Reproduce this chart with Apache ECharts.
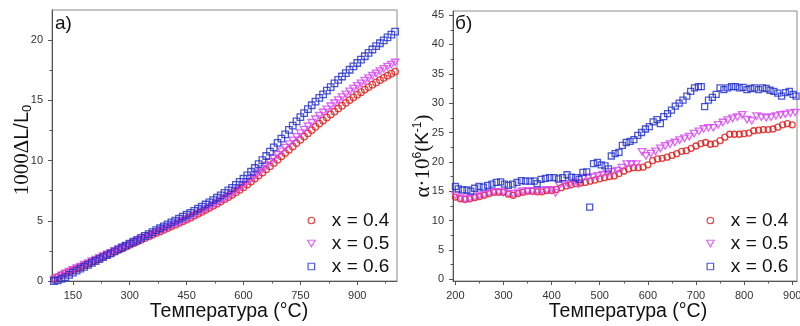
<!DOCTYPE html>
<html><head><meta charset="utf-8">
<script src="https://cdn.jsdelivr.net/npm/echarts@6/dist/echarts.min.js"></script>
<style>html,body{margin:0;padding:0;background:#fff}#c{width:800px;height:326px}</style>
</head><body><div id="c"></div>
<script>
// ---------- DATA ----------
const seriesNames = ['x = 0.4', 'x = 0.5', 'x = 0.6'];
// panel a) temperature (°C)
const tempA = [100,110,120,130,140,150,160,170,180,190,200,210,220,230,240,250,260,270,280,290,300,310,320,330,340,350,360,370,380,390,400,410,420,430,440,450,460,470,480,490,500,510,520,530,540,550,560,570,580,590,600,610,620,630,640,650,660,670,680,690,700,710,720,730,740,750,760,770,780,790,800,810,820,830,840,850,860,870,880,890,900,910,920,930,940,950,960,970,980,990,1000];
// 1000·ΔL/L0
const dlA_04 = [0.15,0.32,0.48,0.63,0.77,0.90,1.03,1.17,1.31,1.45,1.60,1.74,1.88,2.02,2.16,2.30,2.44,2.58,2.72,2.86,3.00,3.14,3.28,3.42,3.56,3.70,3.84,3.98,4.12,4.26,4.40,4.54,4.68,4.82,4.96,5.10,5.26,5.42,5.58,5.74,5.91,6.08,6.25,6.42,6.60,6.79,6.97,7.16,7.36,7.57,7.79,8.02,8.26,8.50,8.75,9.01,9.27,9.53,9.80,10.07,10.35,10.62,10.90,11.17,11.45,11.72,11.99,12.26,12.53,12.80,13.07,13.33,13.58,13.83,14.07,14.32,14.56,14.79,15.02,15.25,15.47,15.68,15.89,16.10,16.30,16.49,16.68,16.87,17.05,17.22,17.39];
const dlA_05 = [0.12,0.30,0.47,0.63,0.78,0.92,1.06,1.20,1.35,1.49,1.64,1.78,1.92,2.06,2.20,2.34,2.48,2.62,2.76,2.91,3.05,3.19,3.33,3.47,3.61,3.75,3.89,4.03,4.17,4.31,4.45,4.59,4.73,4.87,5.01,5.15,5.30,5.46,5.62,5.79,5.96,6.14,6.32,6.50,6.69,6.89,7.09,7.29,7.51,7.73,7.97,8.22,8.49,8.75,9.03,9.31,9.59,9.88,10.17,10.47,10.77,11.07,11.37,11.67,11.97,12.27,12.56,12.85,13.14,13.43,13.72,13.99,14.25,14.51,14.76,15.02,15.27,15.50,15.74,15.97,16.20,16.41,16.63,16.84,17.04,17.24,17.43,17.62,17.80,17.97,18.14];
const dlA_06 = [0.00,0.06,0.17,0.32,0.51,0.70,0.86,1.02,1.18,1.34,1.50,1.66,1.82,1.98,2.14,2.30,2.46,2.62,2.78,2.94,3.10,3.26,3.42,3.58,3.74,3.90,4.06,4.22,4.38,4.54,4.70,4.86,5.02,5.18,5.34,5.50,5.66,5.83,6.00,6.17,6.35,6.53,6.72,6.91,7.11,7.31,7.52,7.74,7.98,8.23,8.49,8.77,9.07,9.38,9.70,10.03,10.38,10.74,11.10,11.46,11.82,12.18,12.54,12.90,13.26,13.61,13.94,14.27,14.59,14.90,15.20,15.50,15.80,16.10,16.40,16.70,16.98,17.26,17.54,17.82,18.10,18.38,18.66,18.94,19.22,19.50,19.74,19.98,20.22,20.46,20.70];
// panel б) [T °C, α·10^6 K^-1]
const alphaB_04 = [[200,14.0],[210,13.7],[220,13.6],[230,13.7],[240,13.9],[250,14.1],[260,14.3],[270,14.6],[280,14.8],[290,14.8],[300,14.8],[310,14.5],[320,14.3],[330,14.6],[340,14.8],[350,15.0],[360,15.0],[370,14.9],[380,14.9],[390,15.1],[400,15.1],[410,15.3],[420,15.6],[430,15.9],[440,16.1],[450,16.3],[460,16.4],[470,16.5],[480,16.7],[490,16.9],[500,17.1],[510,17.3],[520,17.5],[530,17.6],[540,18.0],[550,18.4],[560,18.8],[570,19.0],[580,19.0],[590,19.1],[600,19.5],[610,20.2],[620,20.5],[630,20.6],[640,20.8],[650,21.1],[660,21.4],[670,21.8],[680,21.9],[690,22.3],[700,22.7],[710,23.1],[720,23.3],[730,23.0],[740,23.1],[750,23.6],[760,24.2],[770,24.7],[780,24.7],[790,24.7],[800,24.8],[810,24.9],[820,25.3],[830,25.4],[840,25.5],[850,25.5],[860,25.6],[870,25.9],[880,26.3],[890,26.5],[900,26.3]];
const alphaB_05 = [[200,14.3],[210,13.8],[220,13.6],[230,13.8],[240,14.0],[250,14.3],[260,14.4],[270,14.7],[280,14.9],[290,14.9],[300,14.8],[310,14.6],[320,14.5],[330,14.8],[340,15.0],[350,15.0],[360,15.0],[370,15.0],[380,15.1],[390,15.2],[400,15.2],[408,14.7],[416,16.0],[426,16.2],[436,16.0],[446,16.5],[456,16.2],[466,17.3],[476,17.3],[486,17.4],[496,17.6],[506,17.8],[516,17.9],[526,18.3],[536,18.5],[546,19.0],[556,19.6],[566,19.6],[576,19.6],[588,21.7],[596,21.0],[606,21.4],[616,21.8],[626,22.3],[636,22.7],[646,23.0],[656,23.3],[666,23.7],[676,24.0],[686,24.3],[696,24.8],[706,25.2],[716,25.6],[726,25.8],[736,25.8],[746,26.3],[756,26.7],[766,27.1],[776,27.4],[786,27.6],[796,28.0],[806,27.2],[816,27.0],[826,27.8],[836,27.6],[846,27.5],[856,27.6],[866,27.8],[876,28.0],[886,28.1],[896,28.3],[906,28.4]];
const alphaB_06 = [[200,15.8],[206,15.4],[215,15.2],[224,15.2],[232,15.0],[240,15.5],[249,15.8],[258,15.7],[267,16.0],[276,16.2],[285,16.5],[294,16.6],[302,16.2],[310,16.0],[319,16.2],[328,16.5],[337,16.8],[346,16.7],[355,16.7],[364,16.7],[370,16.3],[378,17.0],[387,17.2],[396,17.3],[405,17.3],[414,17.1],[423,17.3],[432,17.8],[441,17.4],[450,17.3],[457,17.0],[465,18.2],[473,18.3],[479,12.3],[487,19.7],[495,19.9],[503,19.5],[511,19.3],[518,18.8],[524,21.0],[532,21.4],[540,21.6],[547,22.8],[555,23.3],[563,23.5],[571,23.8],[579,24.5],[587,25.0],[595,25.6],[603,26.0],[611,26.8],[619,27.2],[626,26.5],[633,27.7],[641,28.2],[649,28.8],[657,29.5],[665,30.0],[673,30.5],[681,31.2],[689,32.0],[697,32.6],[705,32.8],[711,32.8],[718,29.4],[726,30.5],[734,31.0],[742,31.5],[750,32.6],[758,32.3],[766,32.6],[774,32.8],[782,32.8],[790,32.6],[798,32.7],[806,32.3],[814,32.5],[822,32.6],[830,32.3],[838,32.6],[846,32.5],[854,32.2],[862,32.0],[870,31.7],[878,31.2],[886,31.8],[894,32.0],[902,31.5],[908,31.2]];
// tick labels
const ticksXA = [150,300,450,600,750,900];
const minorXA = [225,375,525,675,825,975];
const ticksYA = [0,5,10,15,20];
const minorYA = [2.5,7.5,12.5,17.5];
const ticksXB = [200,300,400,500,600,700,800,900];
const minorXB = [250,350,450,550,650,750,850];
const ticksYB = [0,5,10,15,20,25,30,35,40,45];
const minorYB = [2.5,7.5,12.5,17.5,22.5,27.5,32.5,37.5,42.5];

// ---------- STYLE ----------
const SANS = '"Liberation Sans", Arial, sans-serif';
const SERIF = '"Liberation Serif", "Times New Roman", serif';
const AX = '#555', BORDER = '#8a8a8a', LBL = '#333';
const colors = ['#dc1414', '#d840f2', '#1f2dc8'];
const symbols = ['circle', 'path://M0,0 L10,0 L5,8.66 Z', 'path://M0,0 L10,0 L10,10 L0,10 Z'];
const symSizeA = [6.5, 7.5, 6.5];
const symSizeB = [6, 7.5, 6];

function mainAxis(gi, min, max, ticks, isX) {
  return {type:'value', gridIndex:gi, min:min, max:max, position:isX?'bottom':'left',
    axisLine:{show:true, onZero:false, lineStyle:{color:AX, width:1}},
    axisTick:{show:true, inside:false, length:4, customValues:ticks, lineStyle:{color:AX}},
    axisLabel:{show:true, customValues:ticks, fontSize:11, color:LBL, fontFamily:SANS, margin:9},
    splitLine:{show:false}};
}
function minorAxis(gi, min, max, ticks, isX) {
  return {type:'value', gridIndex:gi, min:min, max:max, position:isX?'bottom':'left',
    axisLine:{show:false, onZero:false}, axisTick:{show:true, inside:false, length:2.5, customValues:ticks, lineStyle:{color:AX}},
    axisLabel:{show:false}, splitLine:{show:false}};
}
function sc(name, data, k, xi, size) {
  return {type:'scatter', name:name, xAxisIndex:xi, yAxisIndex:xi, data:data,
    symbol:symbols[k], symbolSize:size, symbolKeepAspect:true,
    itemStyle:{color:'rgba(255,255,255,0)', borderColor:colors[k], borderWidth:1.3},
    emphasis:{disabled:true}, animation:false};
}
function legendData() {
  return seriesNames.map((n,k)=>({name:n, icon:symbols[k],
    itemStyle:{color:'rgba(255,255,255,0)', borderColor:colors[k], borderWidth:1.2}}));
}
const pairsA = (vals)=>tempA.map((t,i)=>[t, vals[i]]);

const option = {
  animation:false,
  backgroundColor:'#fff',
  grid:[
    {left:52, top:10, width:345, height:271, show:true, borderColor:BORDER, borderWidth:1, outerBoundsMode:'none'},
    {left:453, top:11, width:344, height:270, show:true, borderColor:BORDER, borderWidth:1, outerBoundsMode:'none'}
  ],
  xAxis:[
    mainAxis(0, 95, 1005, ticksXA, true), minorAxis(0, 95, 1005, minorXA, true),
    mainAxis(1, 195, 910, ticksXB, true), minorAxis(1, 195, 910, minorXB, true)
  ],
  yAxis:[
    mainAxis(0, 0, 22.5, ticksYA, false), minorAxis(0, 0, 22.5, minorYA, false),
    mainAxis(1, -0.3, 45.7, ticksYB, false), minorAxis(1, -0.3, 45.7, minorYB, false)
  ],
  legend:[
    {orient:'vertical', left:307, top:211, padding:0, itemGap:4, itemWidth:31, itemHeight:6.5,
     textStyle:{fontSize:19, color:'#111', fontFamily:SANS}, data:legendData(), selectedMode:false},
    {orient:'vertical', left:706, top:211, padding:0, itemGap:4, itemWidth:31, itemHeight:6.5,
     textStyle:{fontSize:19, color:'#111', fontFamily:SANS}, data:legendData(), selectedMode:false}
  ],
  graphic:[
    {type:'text', x:55, y:24, style:{text:'a)', font:'19px ' + SANS, fill:'#111', align:'left', verticalAlign:'middle'}},
    {type:'text', x:455, y:24, style:{text:'б)', font:'19px ' + SANS, fill:'#111', align:'left', verticalAlign:'middle'}},
    {type:'text', x:229, y:312, style:{text:'Температура (°C)', font:'19.5px ' + SANS, fill:'#111', align:'center', verticalAlign:'middle'}},
    {type:'text', x:628, y:312, style:{text:'Температура (°C)', font:'19.5px ' + SANS, fill:'#111', align:'center', verticalAlign:'middle'}},
    {type:'text', x:22, y:150, rotation:Math.PI/2,
     style:{text:'{s|1000Δ}{a|L/L}{b|0}', align:'center', verticalAlign:'middle', fill:'#111',
       rich:{s:{fontFamily:SERIF, fontSize:21, fill:'#111'}, a:{fontFamily:SANS, fontSize:20, fill:'#111'}, b:{fontFamily:SANS, fontSize:13, fill:'#111', verticalAlign:'bottom', padding:[10,0,0,0]}}}},
    {type:'text', x:423, y:156, rotation:Math.PI/2,
     style:{text:'{s|α·10}{p|6}{s|(}{a|K}{p|-1}{s|)}', align:'center', verticalAlign:'middle', fill:'#111',
       rich:{s:{fontFamily:SERIF, fontSize:21, fill:'#111'}, a:{fontFamily:SANS, fontSize:19, fill:'#111'}, p:{fontFamily:SANS, fontSize:12, fill:'#111', verticalAlign:'top', padding:[0,0,10,0]}}}}
  ],
  series:[
    sc(seriesNames[0], pairsA(dlA_04), 0, 0, symSizeA[0]),
    sc(seriesNames[1], pairsA(dlA_05), 1, 0, symSizeA[1]),
    sc(seriesNames[2], pairsA(dlA_06), 2, 0, symSizeA[2]),
    sc(seriesNames[0], alphaB_04, 0, 2, symSizeB[0]),
    sc(seriesNames[1], alphaB_05, 1, 2, symSizeB[1]),
    sc(seriesNames[2], alphaB_06, 2, 2, symSizeB[2])
  ]
};
const chart = echarts.init(document.getElementById('c'), null, {renderer:'canvas'});
chart.setOption(option);
</script></body></html>
